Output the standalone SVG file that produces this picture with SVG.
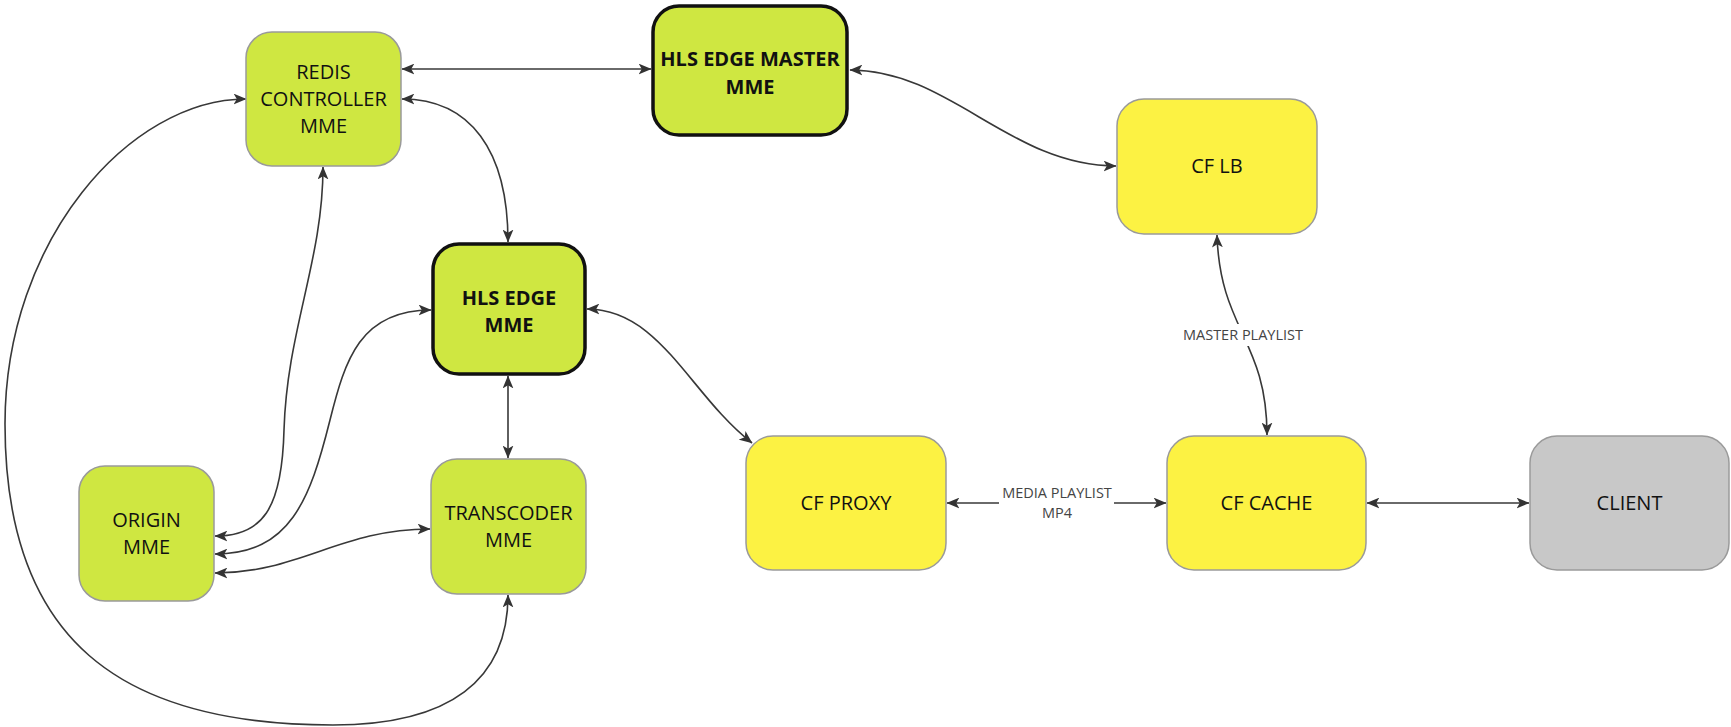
<svg xmlns="http://www.w3.org/2000/svg" width="1731" height="727" viewBox="0 0 1731 727">
<style>
.n{stroke:#9a9a9a;stroke-width:1.5}
.g{fill:#cfe741}
.y{fill:#fcf243}
.c{fill:#c8c8c8}
.b{stroke:#111;stroke-width:3.5}
.t{font-family:"Open Sans","Liberation Sans",sans-serif;font-size:20px;fill:#111;text-anchor:middle}
.tb{font-weight:bold}
.e{fill:none;stroke:#383838;stroke-width:1.6;marker-start:url(#ah);marker-end:url(#ah)}
.l{font-family:"Open Sans","Liberation Sans",sans-serif;font-size:14.5px;fill:#444;text-anchor:middle}
</style>
<defs>
<marker id="ah" viewBox="0 0 12 10" refX="11.5" refY="5" markerWidth="13" markerHeight="11" markerUnits="userSpaceOnUse" orient="auto-start-reverse">
<path d="M0,0 L12,5 L0,10 L3,5 z" fill="#333"/>
</marker>
</defs>
<rect width="1731" height="727" fill="#fff"/>
<g id="connectors">
<path class="e" d="M402 69 L651 69"/>
<path class="e" d="M850 70 C950 70 1010 166 1116 166"/>
<path class="e" d="M402 99 C470 99 508 150 508 242"/>
<path class="e" d="M323 167 C323 260 287 330 284 430 C282 510 262 536 215 536"/>
<path class="e" d="M431 310 C360 310 345 360 330 420 C310 500 290 554 215 554"/>
<path class="e" d="M215 573 C300 573 340 529 430 529"/>
<path class="e" d="M508 376 L508 458"/>
<path class="e" d="M246 99 C130 99 5 240 5 424 C5 640 120 725 333 725 C450 725 508 680 508 595"/>
<path class="e" d="M587 309 C660 309 690 395 752 443"/>
<path class="e" d="M947 503 L1166 503"/>
<path class="e" d="M1217 235 C1220 330 1267 340 1267 435"/>
<path class="e" d="M1367 503 L1529 503"/>
<rect x="999" y="482" width="115" height="42" fill="#fff"/>
<text class="l" x="1057" y="498">MEDIA PLAYLIST</text>
<text class="l" x="1057" y="518">MP4</text>
<rect x="1181" y="324" width="124" height="22" fill="#fff"/>
<text class="l" x="1243" y="340">MASTER PLAYLIST</text>
</g>
<g id="redis">
<rect class="n g" x="246" y="32" width="155" height="134" rx="26"/>
<text class="t" x="323.5" y="79">REDIS</text>
<text class="t" x="323.5" y="106">CONTROLLER</text>
<text class="t" x="323.5" y="133">MME</text>
</g>
<g id="hls-edge-master">
<rect class="b g" x="653" y="6" width="194" height="129" rx="26"/>
<text class="t tb" x="750" y="66">HLS EDGE MASTER</text>
<text class="t tb" x="750" y="94">MME</text>
</g>
<g id="hls-edge">
<rect class="b g" x="433" y="244" width="152" height="130" rx="26"/>
<text class="t tb" x="509" y="305">HLS EDGE</text>
<text class="t tb" x="509" y="332">MME</text>
</g>
<g id="origin">
<rect class="n g" x="79" y="466" width="135" height="135" rx="26"/>
<text class="t" x="146.5" y="527">ORIGIN</text>
<text class="t" x="146.5" y="554">MME</text>
</g>
<g id="transcoder">
<rect class="n g" x="431" y="459" width="155" height="135" rx="26"/>
<text class="t" x="508.5" y="520">TRANSCODER</text>
<text class="t" x="508.5" y="547">MME</text>
</g>
<g id="cf-proxy">
<rect class="n y" x="746" y="436" width="200" height="134" rx="27"/>
<text class="t" x="846" y="510">CF PROXY</text>
</g>
<g id="cf-lb">
<rect class="n y" x="1117" y="99" width="200" height="135" rx="27"/>
<text class="t" x="1217" y="173">CF LB</text>
</g>
<g id="cf-cache">
<rect class="n y" x="1167" y="436" width="199" height="134" rx="27"/>
<text class="t" x="1266.5" y="510">CF CACHE</text>
</g>
<g id="client">
<rect class="n c" x="1530" y="436" width="199" height="134" rx="27"/>
<text class="t" x="1629.5" y="510">CLIENT</text>
</g>
</svg>
